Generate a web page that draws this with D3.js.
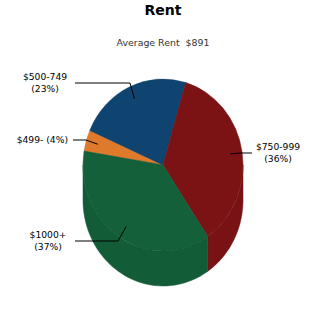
<!DOCTYPE html>
<html>
<head>
<meta charset="utf-8">
<script src="https://cdn.jsdelivr.net/npm/d3@7"></script>
<style>
  body { margin: 0; background: #fff; }
  svg { display: block; font-family: "DejaVu Sans", sans-serif; }
  text { white-space: pre; }
</style>
</head>
<body>
<div id="chart"></div>
<script>
// chart data
const categories = ['$499-', '$500-749', '$750-999', '$1000+'];
const percents = [4, 23, 36, 37];
const colors = ['#df7a2c', '#0f4470', '#7b1315', '#13603a'];
const title = 'Rent';
const subtitle = 'Average Rent  $891';

const width = 325;
const height = 325;

const cx = 163, cy = 165;     // center of top face
const rx = 80, ry = 86;       // top ellipse radii
const depth = 35;             // thickness of the pie

const svg = d3.select('#chart')
  .append('svg')
  .attr('width', width)
  .attr('height', height);

svg.append('text')
  .attr('x', 163).attr('y', 15)
  .attr('text-anchor', 'middle')
  .attr('font-size', 14).attr('font-weight', 'bold')
  .text(title);

svg.append('text')
  .attr('x', 163).attr('y', 46)
  .attr('text-anchor', 'middle')
  .attr('font-size', 9.4)
  .attr('fill', '#333')
  .text(subtitle);

const startDeg = -80.7;
const pie = d3.pie()
  .sort(null)
  .value(d => d)
  .startAngle(startDeg * Math.PI / 180)
  .endAngle(startDeg * Math.PI / 180 + 2 * Math.PI);

const arcs = pie(percents);

// point on the ellipse at angle a (0 = top, clockwise)
const pt = (a, k = 1, dy = 0) => [cx + k * rx * Math.sin(a), cy - k * ry * Math.cos(a) + dy];

// side walls: only the front half (angle between PI/2 and 3PI/2) shows
const side = svg.append('g').attr('class', 'side');
arcs.forEach((d, i) => {
  let a0 = d.startAngle, a1 = d.endAngle;
  const shift = Math.floor(a0 / (2 * Math.PI)) * 2 * Math.PI;
  a0 -= shift; a1 -= shift;
  const segs = [[a0, a1], [a0 - 2 * Math.PI, a1 - 2 * Math.PI], [a0 + 2 * Math.PI, a1 + 2 * Math.PI]];
  segs.forEach(([s, e]) => {
    const lo = Math.max(s, Math.PI / 2), hi = Math.min(e, 3 * Math.PI / 2);
    if (hi <= lo) return;
    const n = 40;
    const top = d3.range(n + 1).map(j => pt(lo + (hi - lo) * j / n));
    const bot = d3.range(n + 1).map(j => pt(hi - (hi - lo) * j / n, 1, depth));
    side.append('path')
      .attr('d', d3.line()(top.concat(bot)) + 'Z')
      .attr('fill', d3.color(colors[i]).darker(0.08))
      .attr('stroke', d3.color(colors[i]).darker(0.3))
      .attr('stroke-width', 0.5);
  });
});

// top face
const arc = d3.arc().innerRadius(0).outerRadius(rx);
svg.append('g')
  .attr('transform', `translate(${cx},${cy}) scale(1,${ry / rx})`)
  .selectAll('path')
  .data(arcs)
  .join('path')
  .attr('d', arc)
  .attr('fill', (d, i) => colors[i])
  .attr('stroke', (d, i) => d3.color(colors[i]).darker(0.25))
  .attr('stroke-width', 0.5);

// labels with leader lines
const labelLayout = [
  { elbowX: 86, elbowY: 140, endX: 73, textX: 68, anchor: 'end', oneLine: true },
  { elbowX: 130, elbowY: 83, endX: 75, textX: 45, anchor: 'middle' },
  { elbowX: 240, elbowY: 153, endX: 252, textX: 278, anchor: 'middle' },
  { elbowX: 118, elbowY: 241, endX: 75, textX: 48, anchor: 'middle' },
];

const labels = svg.append('g').attr('class', 'labels');
arcs.forEach((d, i) => {
  const L = labelLayout[i];
  const mid = (d.startAngle + d.endAngle) / 2;
  const p = pt(mid, 0.85);
  labels.append('polyline')
    .attr('points', [p, [L.elbowX, L.elbowY], [L.endX, L.elbowY]].map(q => q.join(',')).join(' '))
    .attr('fill', 'none')
    .attr('stroke', '#000')
    .attr('stroke-width', 1);
  const t = labels.append('text')
    .attr('font-size', 9.2)
    .attr('text-anchor', L.anchor);
  if (L.oneLine) {
    t.attr('x', L.textX).attr('y', L.elbowY + 3)
      .text(`${categories[i]} (${percents[i]}%)`);
  } else {
    t.append('tspan').attr('x', L.textX).attr('y', L.elbowY - 3).text(categories[i]);
    t.append('tspan').attr('x', L.textX).attr('y', L.elbowY + 9).text(`(${percents[i]}%)`);
  }
});
</script>
</body>
</html>
